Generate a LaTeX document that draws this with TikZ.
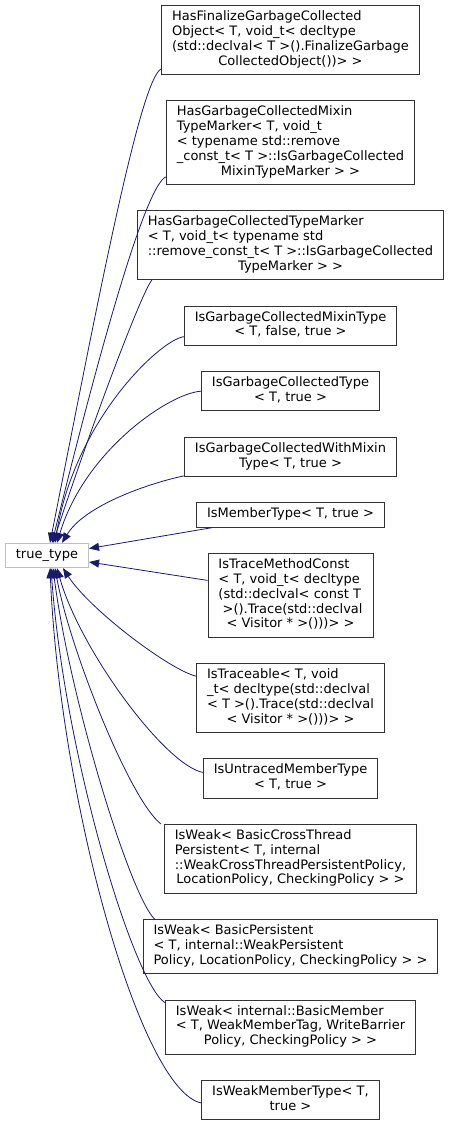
\documentclass[tikz,border=0pt]{standalone}
\usepackage{fontspec}
\setmainfont{DejaVu Sans}
\usetikzlibrary{positioning,arrows.meta}
\definecolor{edgeblue}{HTML}{191970}
\newcommand{\lns}[1]{\begin{tabular}{@{}l@{}}#1\end{tabular}}
\newcommand{\ctr}[1]{\multicolumn{1}{@{}c@{}}{#1}}

\begin{document}
\begin{tikzpicture}[x=1pt, y=-1pt, node distance=25.5pt, >={Triangle[length=10pt,width=8pt]}, every node/.style={draw=black!80, line width=0.9pt, fill=white, inner xsep=10.5pt, inner ysep=4.8pt, font=\fontsize{13}{14.8}\selectfont}, base/.style={draw=black!25}, inh/.style={->, draw=edgeblue, line width=0.8pt}]
  \useasboundingbox (0,0) rectangle (449,1125);

  % derived classes, one column
  \node (n1) at (290.5,40) {\lns{HasFinalizeGarbageCollected\\Object< T, void\_t< decltype\\(std::declval< T >().FinalizeGarbage\\\ctr{CollectedObject())> >}}};
  \node (n2) [below=of n1] {\lns{HasGarbageCollectedMixin\\TypeMarker< T, void\_t\\< typename std::remove\\\_const\_t< T >::IsGarbageCollected\\\ctr{MixinTypeMarker > >}}};
  \node (n3) [below=of n2] {\lns{HasGarbageCollectedTypeMarker\\< T, void\_t< typename std\\::remove\_const\_t< T >::IsGarbageCollected\\\ctr{TypeMarker > >}}};
  \node (n4) [below=of n3] {\lns{IsGarbageCollectedMixinType\\\ctr{< T, false, true >}}};
  \node (n5) [below=of n4] {\lns{IsGarbageCollectedType\\\ctr{< T, true >}}};
  \node (n6) [below=of n5] {\lns{IsGarbageCollectedWithMixin\\\ctr{Type< T, true >}}};
  \node (n7) [below=of n6] {\lns{IsMemberType< T, true >}};
  \node (n8) [below=of n7] {\lns{IsTraceMethodConst\\< T, void\_t< decltype\\(std::declval< const T\\\ >().Trace(std::declval\\\ctr{< Visitor * >()))> >}}};
  \node (n9) [below=of n8] {\lns{IsTraceable< T, void\\\_t< decltype(std::declval\\< T >().Trace(std::declval\\\ctr{< Visitor * >()))> >}}};
  \node (n10) [below=of n9] {\lns{IsUntracedMemberType\\\ctr{< T, true >}}};
  \node (n11) [below=of n10] {\lns{IsWeak< BasicCrossThread\\Persistent< T, internal\\::WeakCrossThreadPersistentPolicy,\\\ctr{LocationPolicy, CheckingPolicy > >}}};
  \node (n12) [below=of n11] {\lns{IsWeak< BasicPersistent\\< T, internal::WeakPersistent\\\ctr{Policy, LocationPolicy, CheckingPolicy > >}}};
  \node (n13) [below=of n12] {\lns{IsWeak< internal::BasicMember\\< T, WeakMemberTag, WriteBarrier\\\ctr{Policy, CheckingPolicy > >}}};
  \node (n14) [below=of n13] {\lns{IsWeakMemberType< T,\\\ctr{true >}}};

  % base class
  \node[base] (tt) at (47,555.5) {\lns{true\_type}};

  % inheritance edges
  \draw[inh] ([yshift=6pt]n1.south west) .. controls (140,80) and (98,300) .. ([xshift=3pt]tt.north);
  \draw[inh] ([yshift=8pt]n2.south west) .. controls (145,186) and (98,356) .. ([xshift=5pt]tt.north);
  \draw[inh] ([xshift=15pt]n3.south west) .. controls (142,292) and (95,415) .. ([xshift=6pt]tt.north);
  \draw[inh] ([yshift=9pt]n4.south west) .. controls (160,340) and (75,420) .. ([xshift=8pt]tt.north);
  \draw[inh] (n5.west) .. controls (170,393) and (85,450) .. ([xshift=10pt]tt.north);
  \draw[inh] ([yshift=1pt]n6.south west) .. controls (150,483) and (85,505) .. ([xshift=15pt]tt.north);
  \draw[inh] ([xshift=16pt]n7.south west) -- ([yshift=7pt]tt.east);
  \draw[inh] ([yshift=15pt]n8.west) -- ([yshift=-6.5pt]tt.east);
  \draw[inh] ([yshift=-13pt]n9.north west) .. controls (170,670) and (90,610) .. ([xshift=16pt]tt.south);
  \draw[inh] ([yshift=6pt]n10.west) .. controls (165,765) and (80,650) .. ([xshift=10pt]tt.south);
  \draw[inh] ([xshift=-3pt]n11.north west) .. controls (130,800) and (70,650) .. ([xshift=8pt]tt.south);
  \draw[inh] ([xshift=12pt]n12.north west) .. controls (130,895) and (70,700) .. ([xshift=6pt]tt.south);
  \draw[inh] ([yshift=-3pt]n13.north west) .. controls (135,985) and (65,760) .. ([xshift=4pt]tt.south);
  \draw[inh] ([yshift=-3pt]n14.west) .. controls (140,1090) and (60,800) .. ([xshift=3pt]tt.south);
\end{tikzpicture}
\end{document}
